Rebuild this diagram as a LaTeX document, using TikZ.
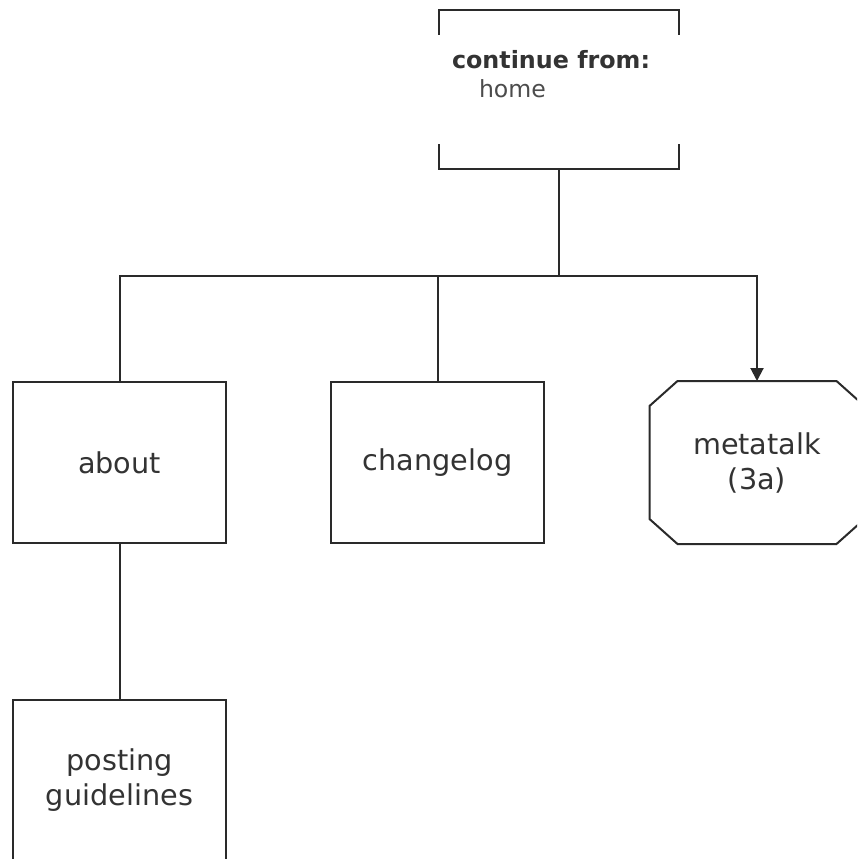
\documentclass[tikz,border=0pt]{standalone}
\usepackage{fontspec}
\setmainfont{DejaVu Sans}
\usetikzlibrary{arrows.meta}
\definecolor{ln}{HTML}{2a2a2a}
\definecolor{tx}{HTML}{333333}
\begin{document}
\begin{tikzpicture}[x=1pt,y=-1pt,line width=2pt,
  box/.style={draw=ln,minimum width=213pt,minimum height=161pt,inner sep=0pt,align=center,text=tx,font=\fontsize{28.7}{35}\selectfont},
  conn/.style={draw=ln,line width=2pt},
  lbl/.style={anchor=west,inner sep=0pt,text=tx}]
\useasboundingbox (0,0) rectangle (857,859);
\clip (0,0) rectangle (857,859);
% continue-from bracket box
\node[minimum width=238pt,minimum height=157pt,inner sep=0pt] (cont) at (559,89.5) {};
\draw[conn] ([yshift=-25pt]cont.north west) -- (cont.north west) -- (cont.north east) -- ([yshift=-25pt]cont.north east);
\draw[conn] ([yshift=25pt]cont.south west) -- (cont.south west) -- (cont.south east) -- ([yshift=25pt]cont.south east);
\node[lbl,font=\bfseries\fontsize{23.8}{28}\selectfont] (contt) at (451,60) {continue from:};
\node[lbl,font=\fontsize{23.6}{28}\selectfont,text=black!70] (home) at (478,89) {home};
% boxes
\node[box] (about) at (119.5,462.5) {about};
\node[box] (changelog) at (437.5,462.5) {changelog};
\node[box,draw=none] (meta) at (757,462.5) {metatalk\\(3a)};
\draw[conn,line join=miter] ([xshift=28pt]meta.north west) -- ([xshift=-28pt]meta.north east) -- ([yshift=-25pt]meta.north east)
  -- ([yshift=25pt]meta.south east) -- ([xshift=-28pt]meta.south east) -- ([xshift=28pt]meta.south west)
  -- ([yshift=25pt]meta.south west) -- ([yshift=-25pt]meta.north west) -- cycle;
\node[box] (posting) at (119.5,780.5) {posting\\guidelines};
% connectors
\coordinate (j) at (559,276);
\draw[conn] (cont.south) -- (j);
\draw[conn] (about.north) |- (j);
\draw[conn] (changelog.north) -- (changelog.north |- j);
\draw[conn,-{Triangle[length=13pt,width=13pt]}] (j) -| (meta.north);
\draw[conn] (about.south) -- (posting.north);
\end{tikzpicture}
\end{document}
